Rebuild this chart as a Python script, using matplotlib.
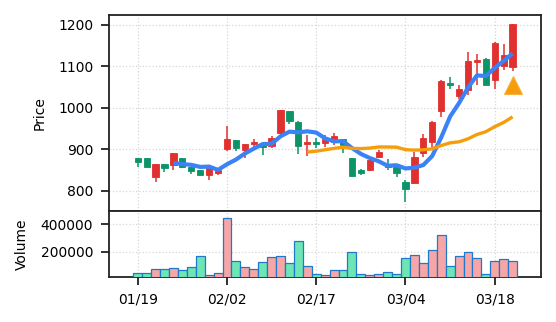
import matplotlib
matplotlib.use("Agg")
import matplotlib.pyplot as plt
import numpy as np
import pandas as pd

# Daily OHLC and volume
opens = [878, 878, 834, 864, 862, 878, 856, 849, 837, 842,
         900, 922, 898, 913, 916, 908, 938, 992, 966, 912,
         918, 914, 918, 924, 878, 849, 849, 881, 862, 856,
         820, 818, 890, 918, 992, 1060, 1028, 1042, 1110, 1118,
         1068, 1100, 1098]
highs = [879, 879, 865, 865, 891, 879, 857, 850, 859, 851,
         956, 923, 913, 925, 917, 933, 995, 993, 967, 934,
         928, 934, 938, 925, 879, 852, 875, 898, 876, 857,
         825, 893, 937, 967, 1068, 1073, 1056, 1135, 1130, 1119,
         1159, 1154, 1202]
lows = [858, 856, 822, 846, 850, 855, 841, 838, 826, 838,
        896, 896, 878, 905, 885, 904, 934, 962, 888, 884,
        902, 906, 910, 890, 832, 838, 848, 880, 850, 834,
        772, 817, 882, 906, 978, 1044, 1022, 1030, 1056, 1055,
        1046, 1092, 1088]
closes = [870, 857, 864, 854, 890, 856, 848, 839, 858, 850,
          924, 904, 912, 917, 905, 928, 994, 968, 908, 918,
          913, 924, 932, 910, 836, 842, 874, 893, 856, 842,
          804, 882, 926, 966, 1064, 1056, 1044, 1112, 1114, 1056,
          1155, 1128, 1201]
volumes = [48600, 48600, 72700, 72700, 79900, 65500, 89500, 166600, 31800, 43800,
           441000, 130500, 89500, 72700, 123200, 159300, 166600, 116000, 277300, 94400,
           36600, 31800, 65500, 65500, 195400, 36600, 29400, 41400, 51000, 41400,
           152100, 173800, 116000, 209900, 318200, 94400, 166600, 195400, 152100, 41400,
           130500, 144900, 130500]

# Buy signal marker on the last session
signal_index = [42]
signal_price = [1055]

tick_index = [0, 10, 20, 30, 40]
tick_labels = ["01/19", "02/02", "02/17", "03/04", "03/18"]

UP = "#e0302f"
DOWN = "#0a9468"
VOL_UP = "#f6a6a6"
VOL_DOWN = "#6ee5b5"
MA_FAST = "#3b82f6"
MA_SLOW = "#f59e0b"

df = pd.DataFrame({"open": opens, "high": highs, "low": lows,
                   "close": closes, "volume": volumes})
x = np.arange(len(df))
up = df["close"] >= df["open"]
ma5 = df["close"].rolling(5).mean()
ma20 = df["close"].rolling(20).mean()

plt.rcParams["font.family"] = "DejaVu Sans"
fig = plt.figure(figsize=(5.56, 3.22), dpi=100)
gs = fig.add_gridspec(2, 1, height_ratios=[3, 1], hspace=0,
                      left=0.1955, right=0.9725, top=0.9534, bottom=0.1407)
ax = fig.add_subplot(gs[0])
axv = fig.add_subplot(gs[1], sharex=ax)

colors = np.where(up, UP, DOWN)

# wicks and bodies
ax.vlines(x, df["low"], df["high"], colors=colors, linewidth=1.1, zorder=2)
body_bottom = np.minimum(df["open"], df["close"])
body_height = np.abs(df["close"] - df["open"])
ax.bar(x, body_height, bottom=body_bottom, width=0.7, color=colors,
       edgecolor=colors, linewidth=0.6, zorder=3)

ax.plot(x, ma5, color=MA_FAST, linewidth=3.0, zorder=4, solid_capstyle="butt")
ax.plot(x, ma20, color=MA_SLOW, linewidth=2.4, zorder=4, solid_capstyle="butt")
ax.plot(signal_index, signal_price, linestyle="none", marker="^",
        markersize=12.5, color=MA_SLOW, markeredgecolor="#f7b245",
        markeredgewidth=0.8, zorder=5)

ax.set_ylabel("Price", fontsize=10, labelpad=8.4)
ax.set_yticks([800, 900, 1000, 1100, 1200])
ax.grid(True, linestyle=":", color="#d6d6d6", linewidth=0.9)

vcolors = np.where(up, VOL_UP, VOL_DOWN)
axv.bar(x, df["volume"], width=1.0, color=vcolors, edgecolor="#1f78c8",
        linewidth=0.9, zorder=3)
axv.set_ylim(19500, 492000)
axv.set_yticks([200000, 400000])
axv.ticklabel_format(axis="y", style="plain", useOffset=False)
axv.set_ylabel("Volume", fontsize=10, labelpad=8.4)
axv.grid(True, linestyle=":", color="#d6d6d6", linewidth=0.9)

axv.set_xticks(tick_index)
axv.set_xticklabels(tick_labels)
axv.set_xlim(-3.25, 45.15)

for a in (ax, axv):
    a.set_axisbelow(True)
    for s in a.spines.values():
        s.set_linewidth(1.3)
        s.set_color("#222222")
    a.tick_params(labelsize=10, width=1.3, length=5.5, pad=5.6, color="#222222")

ax.tick_params(axis="x", which="both", length=0, labelbottom=False)

fig.savefig("out.png", dpi=100)
